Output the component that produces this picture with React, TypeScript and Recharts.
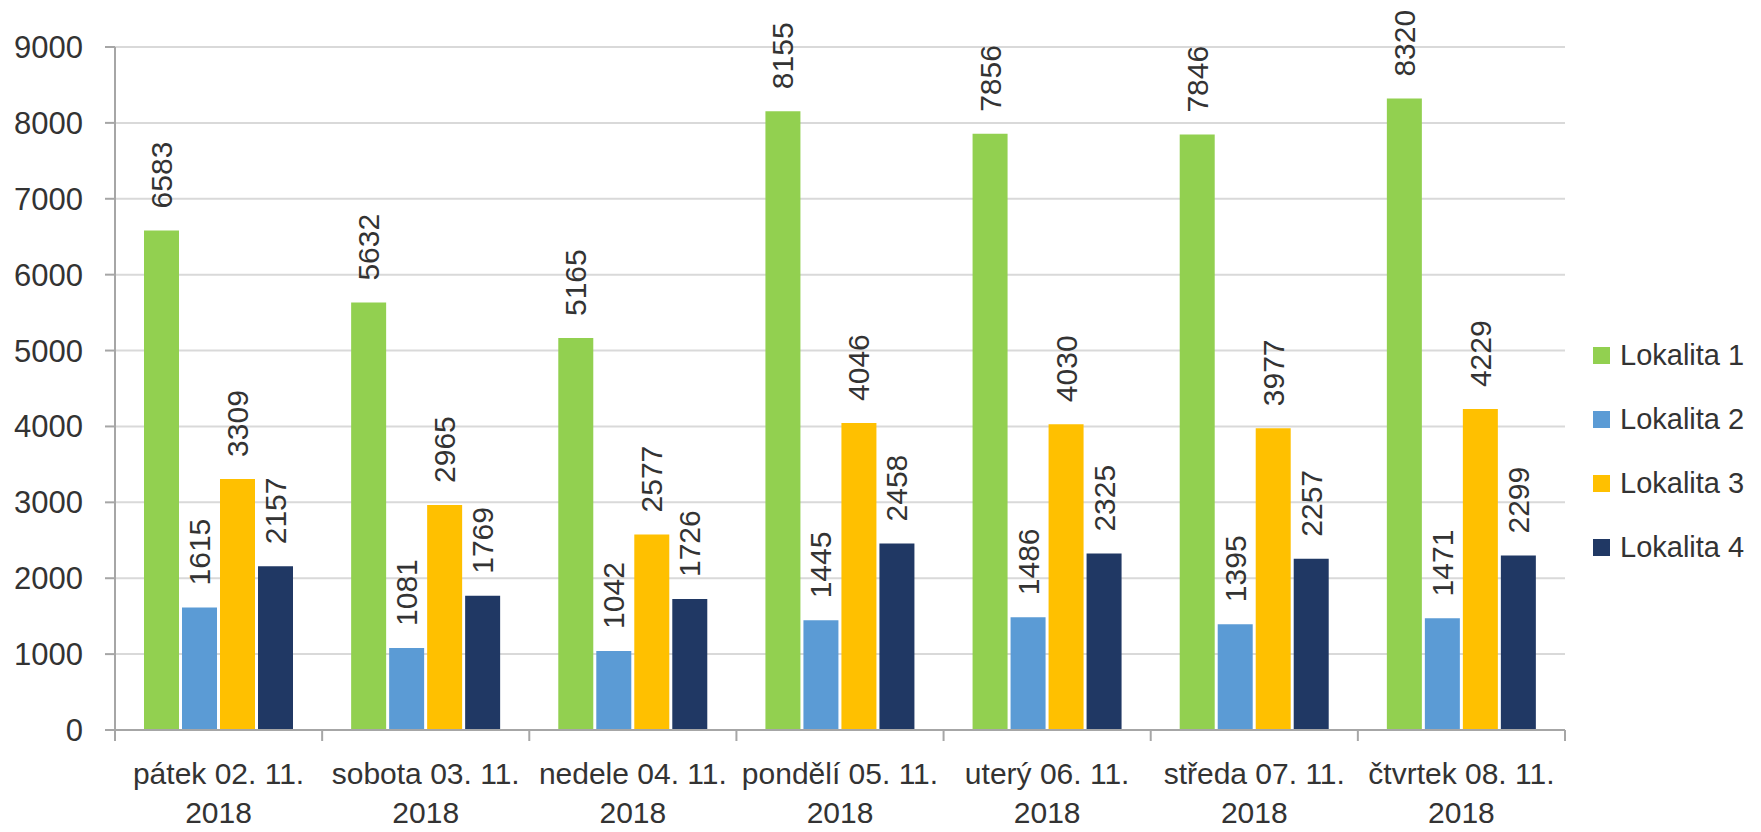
import React from 'react';
import { BarChart, Bar, XAxis, YAxis, CartesianGrid, Legend, LabelList } from 'recharts';

const days = ['pátek 02. 11.', 'sobota 03. 11.', 'nedele 04. 11.', 'pondělí 05. 11.', 'uterý 06. 11.', 'středa 07. 11.', 'čtvrtek 08. 11.'];
const years = ['2018', '2018', '2018', '2018', '2018', '2018', '2018'];

const lokalita1 = [6583, 5632, 5165, 8155, 7856, 7846, 8320];
const lokalita2 = [1615, 1081, 1042, 1445, 1486, 1395, 1471];
const lokalita3 = [3309, 2965, 2577, 4046, 4030, 3977, 4229];
const lokalita4 = [2157, 1769, 1726, 2458, 2325, 2257, 2299];

const yTicks = [0, 1000, 2000, 3000, 4000, 5000, 6000, 7000, 8000, 9000];

const data = days.map((d, i) => ({
  day: d,
  year: years[i],
  L1: lokalita1[i],
  L2: lokalita2[i],
  L3: lokalita3[i],
  L4: lokalita4[i],
}));

const ARIAL = '"Liberation Sans", Arial, sans-serif';
const TEXT = '#333333';
const AXIS = '#A6A6A6';

const XTick = (props: any) => {
  const { x, y, payload, index, visibleTicksCount } = props;
  const half = payload.offset || 103.5;
  const row = data[index] || { day: payload.value, year: '' };
  const last = index === visibleTicksCount - 1;
  return (
    <g>
      <line x1={x - half} x2={x - half} y1={y} y2={y + 11} stroke={AXIS} strokeWidth={2} />
      {last && <line x1={x + half} x2={x + half} y1={y} y2={y + 11} stroke={AXIS} strokeWidth={2} />}
      <text x={x} y={y + 54} textAnchor="middle" fontFamily={ARIAL} fontSize={30} fill={TEXT}>{row.day}</text>
      <text x={x} y={y + 93} textAnchor="middle" fontFamily={ARIAL} fontSize={30} fill={TEXT}>{row.year}</text>
    </g>
  );
};

const RotLabel = (props: any) => {
  const { x, y, width, value } = props;
  const cx = x + width / 2;
  const cy = y - 22;
  return (
    <text x={cx} y={cy} transform={`rotate(-90 ${cx} ${cy})`} textAnchor="start" dominantBaseline="central"
      fontFamily={ARIAL} fontSize={30} fill={TEXT}>{value}</text>
  );
};

const LegendBox = (props: any) => {
  const { payload } = props;
  return (
    <div>
      {(payload || []).map((p: any) => (
        <div key={p.value} style={{ display: 'flex', alignItems: 'center', height: 64 }}>
          <span style={{ width: 17, height: 17, background: p.color, display: 'inline-block', marginRight: 10 }} />
          <span style={{ fontFamily: ARIAL, fontSize: 29, color: TEXT }}>{p.value}</span>
        </div>
      ))}
    </div>
  );
};

export default function App() {
  return (
    <BarChart
      width={1753}
      height={824}
      data={data}
      margin={{ top: 39, right: 196, left: 0, bottom: 12 }}
      barCategoryGap={29}
      barGap={3}
    >
      <CartesianGrid vertical={false} stroke="#D9D9D9" strokeWidth={2} />
      <XAxis dataKey="day" tick={<XTick />} tickLine={false} tickSize={0} tickMargin={0} height={90}
        axisLine={{ stroke: AXIS, strokeWidth: 2 }} interval={0} />
      <YAxis width={107} domain={[0, 9000]} ticks={yTicks} interval={0} tickSize={10} tickMargin={22}
        axisLine={{ stroke: AXIS, strokeWidth: 2 }} tickLine={{ stroke: AXIS, strokeWidth: 2 }}
        tick={{ fontFamily: ARIAL, fontSize: 31, fill: TEXT }} />
      <Legend layout="horizontal" verticalAlign="middle" align="center" content={<LegendBox />}
        wrapperStyle={{ left: 1585, top: 315, width: 170 }} />
      <Bar dataKey="L1" name="Lokalita 1" fill="#92D050" isAnimationActive={false}>
        <LabelList dataKey="L1" content={<RotLabel />} />
      </Bar>
      <Bar dataKey="L2" name="Lokalita 2" fill="#5B9BD5" isAnimationActive={false}>
        <LabelList dataKey="L2" content={<RotLabel />} />
      </Bar>
      <Bar dataKey="L3" name="Lokalita 3" fill="#FFC000" isAnimationActive={false}>
        <LabelList dataKey="L3" content={<RotLabel />} />
      </Bar>
      <Bar dataKey="L4" name="Lokalita 4" fill="#203864" isAnimationActive={false}>
        <LabelList dataKey="L4" content={<RotLabel />} />
      </Bar>
    </BarChart>
  );
}
